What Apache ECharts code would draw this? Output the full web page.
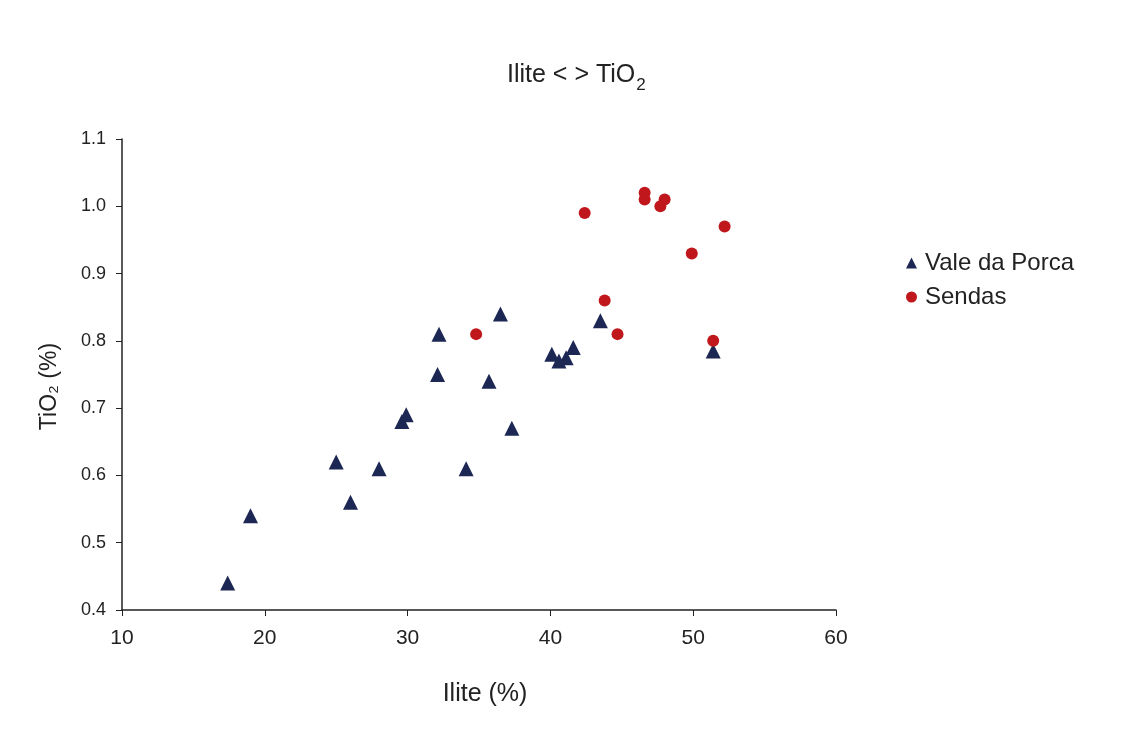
<!DOCTYPE html>
<html>
<head>
<meta charset="utf-8">
<script src="https://cdn.jsdelivr.net/npm/echarts@6/dist/echarts.min.js"></script>
<style>html,body{margin:0;padding:0;background:#fff}#c{width:1134px;height:744px}</style>
</head>
<body>
<div id="c"></div>
<script>
const valeIlite = [17.4, 19.0, 25.0, 26.0, 28.0, 29.6, 29.9, 32.1, 35.7, 37.3, 34.1, 32.2, 36.5, 43.5, 51.4, 40.1, 40.6, 41.1, 41.6];
const valeTiO2  = [0.44, 0.54, 0.62, 0.56, 0.61, 0.68, 0.69, 0.75, 0.74, 0.67, 0.61, 0.81, 0.84, 0.83, 0.785, 0.78, 0.77, 0.775, 0.79];
const sendasIlite = [34.8, 42.4, 46.6, 46.6, 47.7, 48.0, 52.2, 49.9, 43.8, 44.7, 51.4];
const sendasTiO2  = [0.81, 0.99, 1.02, 1.01, 1.00, 1.01, 0.97, 0.93, 0.86, 0.81, 0.80];
const seriesNames = ['Vale da Porca', 'Sendas'];

const zip = (a, b) => a.map((v, i) => [v, b[i]]);
const font = 'Liberation Sans, Arial, sans-serif';
const chart = echarts.init(document.getElementById('c'), null, {renderer: 'canvas'});
chart.setOption({
  backgroundColor: '#fff',
  animation: false,
  title: {
    text: '{a|Ilite < > TiO}{b|2}',
    left: 507, top: 58, padding: 0,
    textStyle: {
      fontWeight: 'normal',
      rich: {
        a: {fontFamily: font, fontSize: 25, fontWeight: 'normal', color: '#222', lineHeight: 30, verticalAlign: 'bottom'},
        b: {fontFamily: font, fontSize: 17, fontWeight: 'normal', color: '#222', lineHeight: 30, verticalAlign: 'bottom', padding: [0,0,-6,1]}
      }
    }
  },
  legend: {
    orient: 'vertical', left: 901, top: 246, itemGap: 10,
    itemWidth: 11, itemHeight: 11,
    textStyle: {fontFamily: font, fontSize: 24, color: '#222', padding: [0,0,0,3]},
    data: [{name: seriesNames[0], icon: 'triangle'}, {name: seriesNames[1], icon: 'circle'}]
  },
  grid: {left: 122, right: 298, top: 139, bottom: 134},
  xAxis: {
    type: 'value', min: 10, max: 60, interval: 10,
    name: 'Ilite (%)', nameLocation: 'middle', nameGap: 72,
    nameTextStyle: {fontFamily: font, fontSize: 25, color: '#222', padding: [0,0,0,12]},
    axisLine: {lineStyle: {color: '#222', width: 1.5}},
    axisTick: {show: true, length: 6, lineStyle: {color: '#222'}},
    axisLabel: {fontFamily: font, fontSize: 21, color: '#222', margin: 18},
    splitLine: {show: false}
  },
  yAxis: {
    type: 'value', min: 0.4, max: 1.1, interval: 0.1,
    name: 'TiO\u2082 (%)', nameLocation: 'middle', nameGap: 61,
    nameTextStyle: {fontFamily: font, fontSize: 23, color: '#222', padding: [0,24,0,0]},
    axisLine: {show: true, lineStyle: {color: '#222', width: 1.5}},
    axisTick: {show: true, length: 6, lineStyle: {color: '#222'}},
    axisLabel: {fontFamily: font, fontSize: 18, color: '#222', margin: 16,
      formatter: v => v.toFixed(1)},
    splitLine: {show: false}
  },
  series: [
    {name: seriesNames[0], type: 'scatter', symbol: 'triangle', symbolSize: 15,
     itemStyle: {color: '#1c2753', opacity: 1}, data: zip(valeIlite, valeTiO2)},
    {name: seriesNames[1], type: 'scatter', symbol: 'circle', symbolSize: 12,
     itemStyle: {color: '#c0171c', opacity: 1}, data: zip(sendasIlite, sendasTiO2)}
  ]
});
</script>
</body>
</html>
